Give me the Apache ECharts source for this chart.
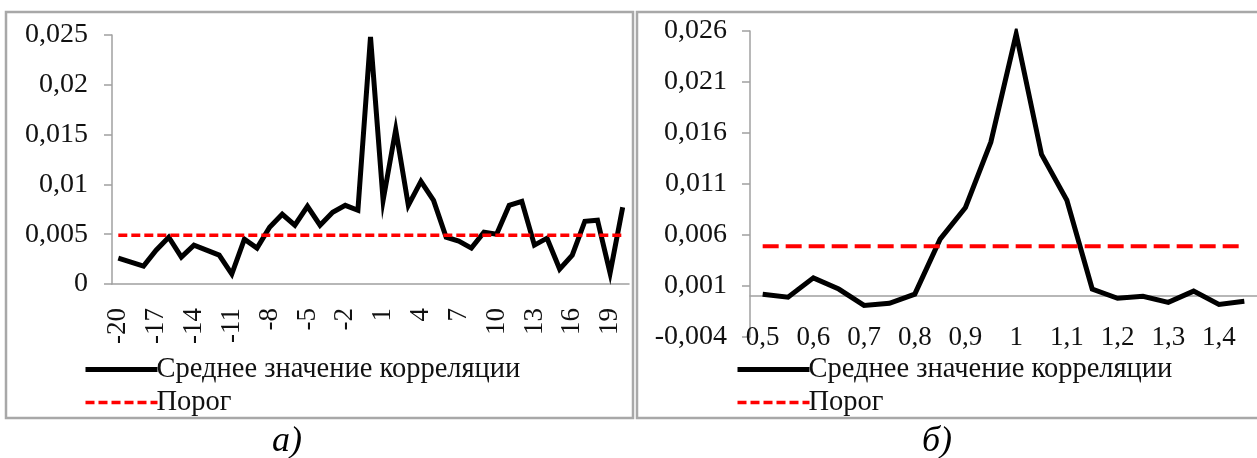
<!DOCTYPE html>
<html>
<head>
<meta charset="utf-8">
<script src="https://cdn.jsdelivr.net/npm/echarts@6/dist/echarts.min.js"></script>
<style>
html,body{margin:0;padding:0;background:#fff;}
#chart{width:1257px;height:458px;}
</style>
</head>
<body>
<div id="chart"></div>
<script>
// а) сдвиг, -20..20
var lagCats = [];
for (var k = -20; k <= 20; k++) lagCats.push(String(k));
var lagMean = [0.0026, 0.0022, 0.0018, 0.0034, 0.0047, 0.0027, 0.0039, 0.0034, 0.0029, 0.0010,
	0.0045, 0.0036, 0.0057, 0.0070, 0.0059, 0.0078, 0.0059, 0.0072, 0.0079, 0.0074,
	0.0248, 0.0084, 0.0155, 0.0079, 0.0103, 0.0084, 0.0047, 0.0043, 0.0036, 0.0052,
	0.0050, 0.0079, 0.0083, 0.0039, 0.0046, 0.0015, 0.0029, 0.0063, 0.0064, 0.0011,
	0.0077];
var lagThreshold = 0.0049;

// б) масштаб, 0,5..1,45
var scaleCats = ['0,5', '0,55', '0,6', '0,65', '0,7', '0,75', '0,8', '0,85', '0,9', '0,95',
	'1', '1,05', '1,1', '1,15', '1,2', '1,25', '1,3', '1,35', '1,4', '1,45'];
var scaleMean = [0.0002, -0.0001, 0.0018, 0.0007, -0.0009, -0.0007, 0.0002, 0.0056, 0.0087, 0.0151,
	0.0257, 0.0139, 0.0094, 0.0007, -0.0002, 0.0000, -0.0006, 0.0005, -0.0008, -0.0005];
var scaleThreshold = 0.0049;

var serieMean = 'Среднее значение корреляции';
var serieThr = 'Порог';

function fill(n, v){
	var a = [];
	for (var i = 0; i < n; i++) a.push(v);
	return a;
}

var font = 'Liberation Serif';
var axisGray = '#a0a0a0';
var noSymbol = {color: 'rgba(0,0,0,0)', borderWidth: 0, opacity: 0};

// легенда, для обоих графиков одинаковая
function makeLegend(left, dash){
	return {
		orient: 'vertical', left: left, top: 355, padding: 0,
		itemWidth: 72, itemHeight: 14, itemGap: 4,
		textStyle: {fontFamily: font, fontSize: 28.5, color: '#111', padding: [0, 0, 0, -6]},
		data: [
			{name: serieMean, itemStyle: noSymbol, lineStyle: {color: '#000', width: 5, type: 'solid'}},
			{name: serieThr, itemStyle: noSymbol, lineStyle: {color: '#ff0000', width: 3.5, type: dash}}
		]
	};
}

var myChart = echarts.init(document.getElementById('chart'));

var option = {
	animation: false,
	backgroundColor: '#fff',
	textStyle: {fontFamily: font},
	grid: [
		{left: 112, right: 628, top: 35, bottom: 174},
		{left: 750, right: -4, top: 31, bottom: 121}
	],
	legend: [makeLegend(83, [9, 4]), makeLegend(735, [9, 4])],
	xAxis: [
		{
			gridIndex: 0, type: 'category', data: lagCats, boundaryGap: true,
			axisLine: {lineStyle: {color: axisGray, width: 1.5}},
			axisTick: {length: 8, interval: 0, lineStyle: {color: axisGray, width: 1.5}},
			axisLabel: {interval: 2, rotate: 90, margin: 24, fontSize: 27, fontFamily: font, color: '#111'}
		},
		{
			// подписи внизу
			gridIndex: 1, type: 'category', data: scaleCats, boundaryGap: true, position: 'bottom',
			axisLine: {show: false, onZero: false},
			axisTick: {show: false},
			axisLabel: {interval: 1, margin: 1, verticalAlign: 'middle', fontSize: 27, fontFamily: font, color: '#111'}
		},
		{
			// ось на нуле
			gridIndex: 1, type: 'category', data: scaleCats, boundaryGap: true, position: 'top',
			axisLine: {onZero: true, lineStyle: {color: axisGray, width: 1.5}},
			axisTick: {inside: true, length: 8, interval: 0, lineStyle: {color: axisGray, width: 1.5}},
			axisLabel: {show: false}
		}
	],
	yAxis: [
		{
			gridIndex: 0, type: 'value', min: 0, max: 0.025, interval: 0.005,
			splitLine: {show: false},
			axisLine: {show: true, lineStyle: {color: axisGray, width: 1.5}},
			axisTick: {show: true, length: 8, lineStyle: {color: axisGray, width: 1.5}},
			axisLabel: {
				margin: 24, fontSize: 28, fontFamily: font, color: '#111',
				formatter: function(v){ return String(+v.toFixed(3)).replace('.', ','); }
			}
		},
		{
			gridIndex: 1, type: 'value', min: -0.004, max: 0.026, interval: 0.005,
			splitLine: {show: false},
			axisLine: {show: true, lineStyle: {color: axisGray, width: 1.5}},
			axisTick: {show: true, length: 8, lineStyle: {color: axisGray, width: 1.5}},
			axisLabel: {
				margin: 23, fontSize: 28, fontFamily: font, color: '#111',
				formatter: function(v){ return v.toFixed(3).replace('.', ','); }
			}
		}
	],
	series: [
		{
			name: serieMean, type: 'line', xAxisIndex: 0, yAxisIndex: 0, data: lagMean,
			symbol: 'none', color: '#000',
			lineStyle: {color: '#000', width: 5, join: 'miter'}
		},
		{
			name: serieThr, type: 'line', xAxisIndex: 0, yAxisIndex: 0, data: fill(lagCats.length, lagThreshold),
			symbol: 'none', color: '#ff0000',
			lineStyle: {color: '#ff0000', width: 3.5, type: [9, 4]}
		},
		{
			name: serieMean, type: 'line', xAxisIndex: 1, yAxisIndex: 1, data: scaleMean,
			symbol: 'none', color: '#000',
			lineStyle: {color: '#000', width: 5, join: 'miter'}
		},
		{
			name: serieThr, type: 'line', xAxisIndex: 1, yAxisIndex: 1, data: fill(scaleCats.length, scaleThreshold),
			symbol: 'none', color: '#ff0000',
			lineStyle: {color: '#ff0000', width: 4, type: [16, 7]}
		}
	],
	graphic: [
		{type: 'rect', shape: {x: 6, y: 12, width: 627, height: 406}, style: {fill: 'none', stroke: '#a8a8a8', lineWidth: 2.5}, silent: true},
		{type: 'rect', shape: {x: 637, y: 12, width: 630, height: 406}, style: {fill: 'none', stroke: '#a8a8a8', lineWidth: 2.5}, silent: true},
		{type: 'text', left: 272, top: 424, style: {text: 'а)', font: 'italic 36px "Liberation Serif"', fill: '#000'}},
		{type: 'text', left: 922, top: 424, style: {text: 'б)', font: 'italic 36px "Liberation Serif"', fill: '#000'}}
	]
};
myChart.setOption(option);
</script>
</body>
</html>
